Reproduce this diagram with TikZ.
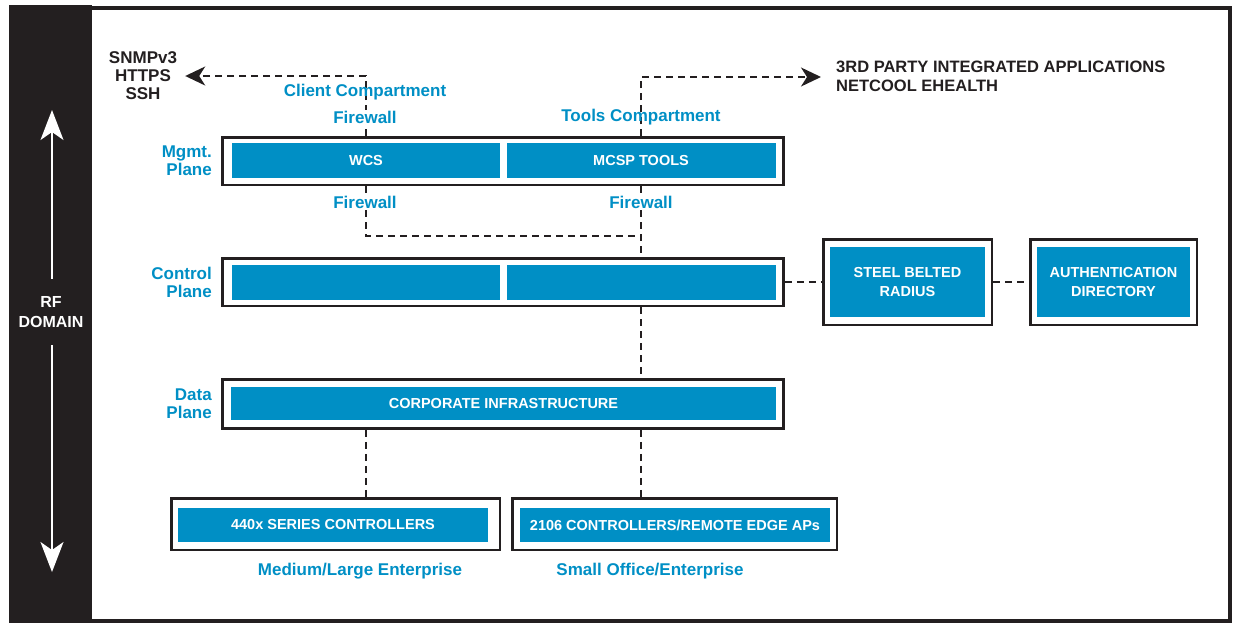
\documentclass[tikz,border=0pt]{standalone}
\usepackage{fontspec}
\setmainfont{Liberation Sans}
\usepackage{xcolor}
\usetikzlibrary{arrows.meta, positioning, calc}

\definecolor{rfblack}{HTML}{231F20}
\definecolor{planeblue}{HTML}{008FC5}

\begin{document}
\begin{tikzpicture}[
    x=1pt, y=-1pt,
    outerbox/.style={rectangle, draw=rfblack, line width=2.5pt, fill=white, inner sep=0pt},
    block/.style={rectangle, fill=planeblue, text=white, inner sep=0pt, align=center, font=\bfseries\fontsize{14.5}{19}\selectfont},
    bluetag/.style={text=planeblue, inner sep=1pt, font=\bfseries\fontsize{17}{18}\selectfont},
    blacktag/.style={text=rfblack, inner sep=1pt, font=\bfseries\fontsize{16.5}{19}\selectfont},
    link/.style={draw=rfblack, line width=1.8pt, dash pattern=on 7pt off 5pt},
    linkarrow/.style={link, -{Stealth[length=20pt, width=19pt, inset=6pt]}},
    rfarrow/.style={white, line width=1.5pt, -{Stealth[length=30pt, width=23pt, inset=8pt]}}
]
    \useasboundingbox (0,0) rectangle (1235,624);

    % Frame and RF domain band
    \fill[rfblack] (9,5) rectangle (92,623);
    \draw[rfblack, line width=4pt] (11,8) rectangle (1230,621);
    \node[text=white, align=center, font=\bfseries\fontsize{16}{20}\selectfont] (rf) at (51,312) {RF\\DOMAIN};
    \coordinate (rftop) at (52,110);
    \coordinate (rfbot) at (52,572);
    \draw[rfarrow, shorten <=14pt] (rf.north -| rftop) -- (rftop);
    \draw[rfarrow, shorten <=14pt] (rf.south -| rfbot) -- (rfbot);

    % Mgmt. plane
    \node[outerbox, minimum width=561, minimum height=47.5] (mgmt) at (503,161) {};
    \node[block, minimum width=268, minimum height=35] (wcs) at (366,160.5) {WCS};
    \node[block, minimum width=269, minimum height=35] (mcsp) at (641,160.5) {MCSP TOOLS};

    % Control plane
    \node[outerbox, minimum width=561, minimum height=47.5] (control) at (503,282) {};
    \node[block, minimum width=268, minimum height=35] (ctrlleft) at (366,282.5) {};
    \node[block, minimum width=269, minimum height=35] (ctrlright) at (641,282.5) {};

    % Data plane
    \node[outerbox, minimum width=561, minimum height=49] (data) at (503,404) {};
    \node[block, minimum width=545, minimum height=33] (corp) at (503.5,403.5) {CORPORATE INFRASTRUCTURE};

    % Radius and directory
    \node[outerbox, minimum width=168.5, minimum height=85.5] (radiusbox) at (907.5,282) {};
    \node[block, minimum width=155, minimum height=70] (radius) at (907.5,282) {STEEL BELTED\\RADIUS};
    \node[outerbox, minimum width=166.5, minimum height=85.5] (authbox) at (1113.5,282) {};
    \node[block, minimum width=153, minimum height=70] (auth) at (1113.5,282) {AUTHENTICATION\\DIRECTORY};

    % Controllers
    \node[outerbox, minimum width=328.5, minimum height=51.5] (bigbox) at (335.5,524) {};
    \node[block, minimum width=310, minimum height=34] (bigctl) at (333,525) {440x SERIES CONTROLLERS};
    \node[outerbox, minimum width=324.5, minimum height=51.5] (smallbox) at (674.5,524) {};
    \node[block, minimum width=310, minimum height=34] (smallctl) at (675,525) {2106 CONTROLLERS/REMOTE EDGE APs};

    % Outside services
    \node[blacktag, align=center, inner xsep=8pt, font=\bfseries\fontsize{17}{18}\selectfont] (snmp) at (143,76) {SNMPv3\\HTTPS\\SSH};
    \node[blacktag, align=left, anchor=west] (apps) at (835,76.5) {3RD PARTY INTEGRATED APPLICATIONS\\NETCOOL EHEALTH};
    \coordinate (appsin) at (821,77);

    % Links
    \draw[linkarrow] (mgmt.north -| wcs) |- (snmp.east);
    \draw[linkarrow] (mgmt.north -| mcsp) |- (appsin);
    \coordinate (fwjoin) at (641,236);
    \draw[link] (mgmt.south -| wcs) |- (fwjoin);
    \draw[link] (mgmt.south -| mcsp) -- (control.north -| mcsp);
    \draw[link] (control.south -| mcsp) -- (data.north -| mcsp);
    \draw[link] (control.east) -- (radiusbox.west);
    \draw[link] (radiusbox.east) -- (authbox.west);
    \draw[link] (data.south -| wcs) -- (bigbox.north -| wcs);
    \draw[link] (data.south -| mcsp) -- (smallbox.north -| mcsp);

    % Labels
    \node[bluetag, align=right, anchor=east] (mgmtlbl) at (213,161) {Mgmt.\\Plane};
    \node[bluetag, align=right, anchor=east] (ctrllbl) at (213,282) {Control\\Plane};
    \node[bluetag, align=right, anchor=east] (datalbl) at (213,404) {Data\\Plane};
    \node[bluetag] (clientlbl) at (365,92) {Client Compartment};
    \node[bluetag, fill=white] (clientfw) at (365,117) {Firewall};
    \node[bluetag] (toolslbl) at (641,117) {Tools Compartment};
    \node[bluetag, fill=white] (wcsfw) at (365,202) {Firewall};
    \node[bluetag, fill=white] (mcspfw) at (641,202) {Firewall};
    \node[bluetag] (biglbl) at (360,571) {Medium/Large Enterprise};
    \node[bluetag] (smalllbl) at (650,571) {Small Office/Enterprise};

\end{tikzpicture}
\end{document}
